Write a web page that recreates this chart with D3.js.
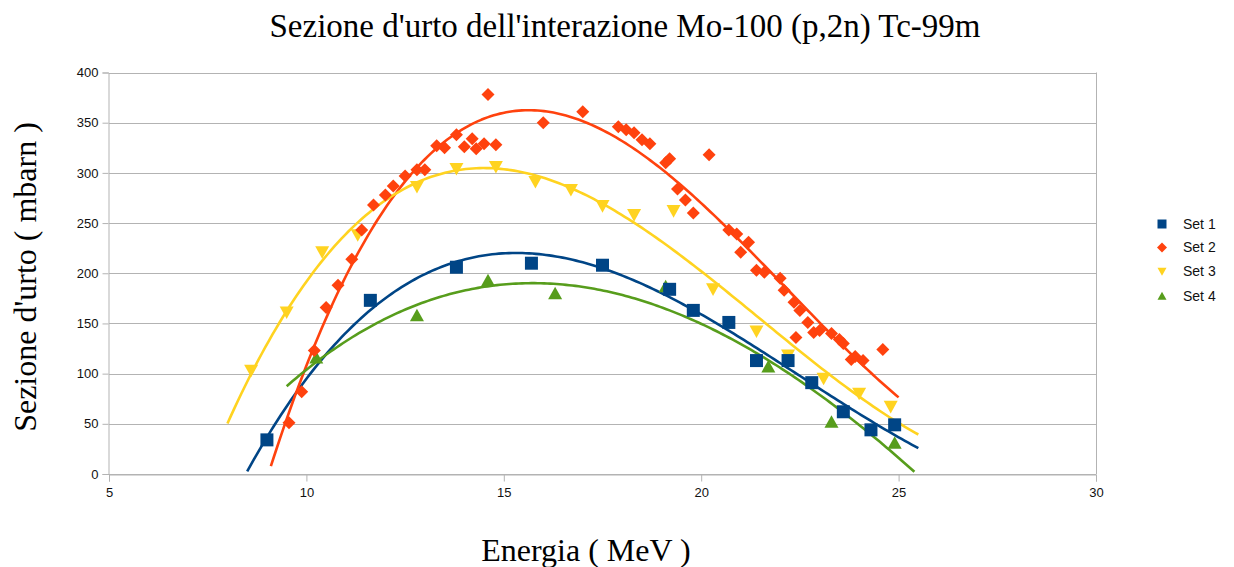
<!DOCTYPE html>
<html>
<head>
<meta charset="utf-8">
<script src="https://cdn.jsdelivr.net/npm/d3@7"></script>
<style>
  html, body { margin: 0; padding: 0; background: #fff; }
  svg { display: block; }
</style>
</head>
<body>
<svg id="chart" width="1234" height="567"></svg>
<script>
// ---------------- DATA ----------------
const titleText = "Sezione d'urto dell'interazione Mo-100 (p,2n) Tc-99m";
const xTitle = "Energia ( MeV )";
const yTitle = "Sezione d'urto ( mbarn )";
const seriesNames = ["Set 1", "Set 2", "Set 3", "Set 4"];
const xTicks = [5, 10, 15, 20, 25, 30];
const yTicks = [0, 50, 100, 150, 200, 250, 300, 350, 400];

const set1E = [9.0, 11.62, 13.8, 15.7, 17.5, 19.2, 19.8, 20.7, 21.4, 22.2, 22.8, 23.6, 24.3, 24.9];
const set1S = [34, 173, 206, 210, 208, 184, 163, 151, 113, 113, 91, 62, 44, 49];

const set2E = [9.56, 9.88, 10.2, 10.5, 10.8, 11.15, 11.4, 11.7, 12.0, 12.2, 12.5, 12.8, 13.0, 13.3, 13.5, 13.8,
  14.0, 14.2, 14.3, 14.5, 14.6, 14.8, 16.0, 17.0, 17.9, 18.1, 18.3, 18.5, 18.7, 19.1, 19.2, 19.4, 19.6, 19.8,
  20.2, 20.7, 20.9, 21.0, 21.2, 21.4, 21.6, 22.0, 22.1, 22.35, 22.4, 22.5, 22.7, 22.85, 23.0, 23.3, 23.5, 23.6,
  23.8, 23.9, 24.1, 24.6];
const set2S = [51, 82, 123, 166, 188, 214, 243, 268, 278, 287, 297, 303, 303, 327, 325, 338,
  326, 334, 324, 329, 378, 328, 350, 361, 346, 343, 340, 333, 329, 310, 314, 284, 273, 260,
  318, 243, 239, 221, 231, 203, 201, 195, 183, 171, 136, 163, 151, 141, 143, 140, 134, 130,
  114, 117, 113, 124];

const set3E = [8.6, 9.5, 10.4, 11.3, 12.8, 13.8, 14.8, 15.8, 16.7, 17.5, 18.3, 19.3, 20.3, 21.4, 22.2, 23.1, 24.0, 24.8];
const set3S = [103, 161, 221, 238, 286, 304, 306, 291, 283, 267, 258, 262, 184, 142, 118, 95, 80, 67];

const set4E = [10.25, 12.8, 14.6, 16.3, 19.1, 21.7, 23.3, 24.9];
const set4S = [116, 158, 193, 180, 187, 107, 52, 31];

// trend line (polynomial regression) settings, energy range drawn
const trendDegree = [3, 3, 3, 3];
const trendRange = [[8.5, 25.5], [9.1, 25.0], [8.0, 25.5], [9.5, 25.4]];

const colors = ["#004586", "#ff420e", "#ffd320", "#579d1c"];
const symbolKinds = ["square", "diamond", "down", "up"];

// ---------------- LAYOUT ----------------
const svg = d3.select("#chart");
const plot = { left: 109, right: 1096, top: 72.5, bottom: 474 };

const x = d3.scaleLinear().domain([5, 30]).range([plot.left, plot.right]);
const y = d3.scaleLinear().domain([0, 400]).range([plot.bottom, plot.top]);

const seriesE = [set1E, set2E, set3E, set4E];
const seriesS = [set1S, set2S, set3S, set4S];

// grid lines
svg.append("g").selectAll("line").data(yTicks).join("line")
  .attr("x1", plot.left).attr("x2", plot.right)
  .attr("y1", d => Math.round(y(d)) + 0.5).attr("y2", d => Math.round(y(d)) + 0.5)
  .attr("stroke", "#b3b3b3").attr("stroke-width", 1);

// right border
svg.append("line")
  .attr("x1", plot.right + 0.5).attr("x2", plot.right + 0.5)
  .attr("y1", y(400)).attr("y2", y(0))
  .attr("stroke", "#b3b3b3");

// axes
const xAxis = d3.axisBottom(x).tickValues(xTicks).tickSize(7).tickPadding(6).tickFormat(d3.format("d"));
const gx = svg.append("g").attr("transform", `translate(0,${Math.round(y(0)) + 0.5})`).call(xAxis);
gx.select(".domain").attr("stroke", "#b3b3b3");
gx.selectAll(".tick line").attr("stroke", "#b3b3b3");
gx.selectAll("text").attr("font-family", "'Liberation Sans', Arial, sans-serif")
  .attr("font-size", 13).attr("fill", "#111");

const yAxis = d3.axisLeft(y).tickValues(yTicks).tickSize(6).tickPadding(4).tickFormat(d3.format("d"));
const gy = svg.append("g").attr("transform", `translate(${plot.left - 0.5},0)`).call(yAxis);
gy.select(".domain").attr("stroke", "#b3b3b3");
gy.selectAll(".tick line").attr("stroke", "#b3b3b3");
gy.selectAll("text").attr("font-family", "'Liberation Sans', Arial, sans-serif")
  .attr("font-size", 13).attr("fill", "#111");

// ---------------- TREND LINES ----------------
function polyfit(xs, ys, deg) {
  const mx = d3.mean(xs), sx = d3.deviation(xs) || 1;
  const n = deg + 1;
  const A = Array.from({ length: n }, () => new Array(n + 1).fill(0));
  xs.forEach((xv, k) => {
    const t = (xv - mx) / sx;
    const pw = [];
    for (let i = 0; i < 2 * n; i++) pw.push(Math.pow(t, i));
    for (let i = 0; i < n; i++) {
      for (let j = 0; j < n; j++) A[i][j] += pw[i + j];
      A[i][n] += pw[i] * ys[k];
    }
  });
  for (let c = 0; c < n; c++) {
    let p = c;
    for (let r = c + 1; r < n; r++) if (Math.abs(A[r][c]) > Math.abs(A[p][c])) p = r;
    [A[c], A[p]] = [A[p], A[c]];
    for (let r = 0; r < n; r++) {
      if (r === c) continue;
      const f = A[r][c] / A[c][c];
      for (let k = c; k <= n; k++) A[r][k] -= f * A[c][k];
    }
  }
  const coef = A.map((row, i) => row[n] / row[i]);
  return xv => {
    const t = (xv - mx) / sx;
    let s = 0;
    for (let i = n - 1; i >= 0; i--) s = s * t + coef[i];
    return s;
  };
}

const line = d3.line().x(d => x(d[0])).y(d => y(d[1])).curve(d3.curveLinear);
const gLines = svg.append("g");
seriesE.forEach((E, i) => {
  const f = polyfit(E, seriesS[i], trendDegree[i]);
  const [a, b] = trendRange[i];
  const pts = d3.range(0, 201).map(k => { const e = a + (b - a) * k / 200; return [e, f(e)]; });
  gLines.append("path").datum(pts)
    .attr("d", line).attr("fill", "none")
    .attr("stroke", colors[i]).attr("stroke-width", 2.6)
    .attr("stroke-linejoin", "round").attr("stroke-linecap", "butt");
});

// ---------------- MARKERS ----------------
function markerPath(kind, s) {
  const h = s / 2;
  if (kind === "square") return `M${-h},${-h}H${h}V${h}H${-h}Z`;
  if (kind === "diamond") return `M0,${-h}L${h},0L0,${h}L${-h},0Z`;
  if (kind === "down") return `M${-h},${-h * 0.85}L${h},${-h * 0.85}L0,${h * 0.95}Z`;
  return `M${-h},${h * 0.85}L${h},${h * 0.85}L0,${-h * 0.95}Z`;
}
const markerSize = [13, 13, 14, 14];

const gPts = svg.append("g");
[3, 2, 1, 0].forEach(i => {
  const data = seriesE[i].map((e, k) => [e, seriesS[i][k]]);
  gPts.append("g").selectAll("path").data(data).join("path")
    .attr("transform", d => `translate(${x(d[0])},${y(d[1])})`)
    .attr("d", markerPath(symbolKinds[i], markerSize[i]))
    .attr("fill", colors[i]);
});

// ---------------- TEXT ----------------
svg.append("text")
  .attr("x", 625).attr("y", 37)
  .attr("text-anchor", "middle")
  .attr("font-family", "'Liberation Serif', 'Times New Roman', serif")
  .attr("font-size", 33).attr("fill", "#000")
  .text(titleText);

svg.append("text")
  .attr("x", 586).attr("y", 561)
  .attr("text-anchor", "middle")
  .attr("font-family", "'Liberation Serif', 'Times New Roman', serif")
  .attr("font-size", 32).attr("fill", "#000")
  .text(xTitle);

svg.append("text")
  .attr("transform", "translate(36,277) rotate(-90)")
  .attr("text-anchor", "middle")
  .attr("font-family", "'Liberation Serif', 'Times New Roman', serif")
  .attr("font-size", 32).attr("fill", "#000")
  .text(yTitle);

// ---------------- LEGEND ----------------
const legendY = [224, 247.5, 271.5, 296];
const gLeg = svg.append("g");
seriesNames.forEach((name, i) => {
  gLeg.append("path")
    .attr("transform", `translate(1162,${legendY[i]})`)
    .attr("d", markerPath(symbolKinds[i], i === 1 ? 10 : 9))
    .attr("fill", colors[i]);
  gLeg.append("text")
    .attr("x", 1183).attr("y", legendY[i]).attr("dy", "0.35em")
    .attr("font-family", "'Liberation Sans', Arial, sans-serif")
    .attr("font-size", 14).attr("fill", "#111")
    .text(name);
});
</script>
</body>
</html>
